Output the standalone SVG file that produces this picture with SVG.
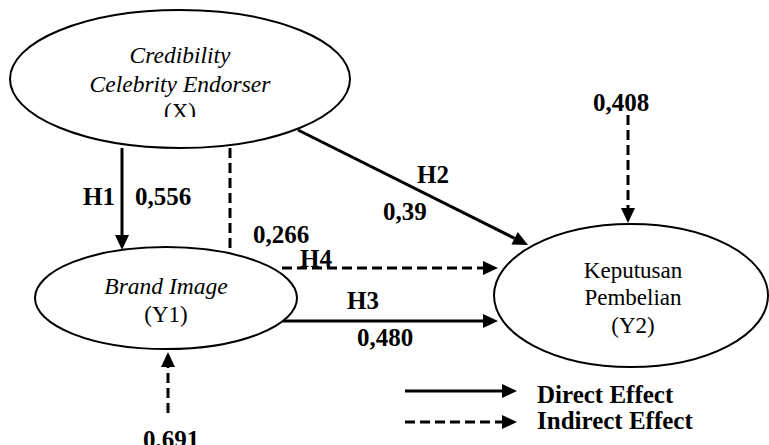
<svg xmlns="http://www.w3.org/2000/svg" width="769" height="445" viewBox="0 0 769 445">
<style>
.node{fill:#fff;stroke:#000;stroke-width:2}
text{font-family:"Liberation Serif","Times New Roman",serif;fill:#000}
.it{font-style:italic;font-size:23.5px;text-anchor:middle}
.rg{font-size:23px;text-anchor:middle}
.lb{font-weight:bold;font-size:25px}
.solid{stroke:#000;stroke-width:3;fill:none}
.dash{stroke:#000;stroke-width:3;fill:none;stroke-dasharray:10 5}
</style>
<defs>
<marker id="ah" markerUnits="userSpaceOnUse" viewBox="0 -7 15 14" refX="0" refY="0" markerWidth="15" markerHeight="14" orient="auto" overflow="visible">
<path d="M0,-7 L15,0 L0,7 z" fill="#000"/>
</marker>
<clipPath id="clipX"><rect x="0" y="0" width="400" height="117"/></clipPath>
</defs>
<rect width="769" height="445" fill="#fff"/>
<g id="connectors">
<line class="solid" x1="122" y1="148" x2="122" y2="235" marker-end="url(#ah)"/>
<line class="dash" x1="230" y1="148" x2="230" y2="252"/>
<line class="solid" x1="298" y1="130" x2="514.6" y2="238.3" marker-end="url(#ah)"/>
<line class="dash" x1="282" y1="268" x2="483" y2="268" marker-end="url(#ah)"/>
<line class="solid" x1="283" y1="321" x2="483" y2="321" marker-end="url(#ah)"/>
<line class="dash" x1="628" y1="115" x2="628" y2="208" marker-end="url(#ah)"/>
<line class="dash" x1="168" y1="413" x2="168" y2="367" marker-end="url(#ah)"/>
</g>
<g id="nodeX">
<ellipse class="node" cx="180" cy="79" rx="170" ry="69"/>
<g clip-path="url(#clipX)">
<text class="it" x="180" y="63">Credibility</text>
<text class="it" x="180" y="92">Celebrity Endorser</text>
<text class="rg" x="180" y="119">(X)</text>
</g>
</g>
<g id="nodeY1">
<ellipse class="node" cx="166" cy="298" rx="131" ry="51"/>
<text class="it" x="166" y="294">Brand Image</text>
<text class="rg" x="166" y="322">(Y1)</text>
</g>
<g id="nodeY2">
<ellipse class="node" cx="631" cy="295.5" rx="137" ry="71.5"/>
<text class="rg" x="633" y="278">Keputusan</text>
<text class="rg" x="633" y="305">Pembelian</text>
<text class="rg" x="633" y="333">(Y2)</text>
</g>
<g id="labels">
<text class="lb" x="83" y="205">H1</text>
<text class="lb" x="135" y="205">0,556</text>
<text class="lb" x="253" y="243">0,266</text>
<text class="lb" x="300" y="267">H4</text>
<text class="lb" x="417" y="183">H2</text>
<text class="lb" x="383" y="220">0,39</text>
<text class="lb" x="347" y="309">H3</text>
<text class="lb" x="357" y="346">0,480</text>
<text class="lb" x="593" y="111">0,408</text>
<text class="lb" x="143" y="448">0,691</text>
</g>
<g id="legend">
<line class="solid" x1="405" y1="391" x2="502" y2="391" marker-end="url(#ah)"/>
<line class="dash" x1="405" y1="422" x2="502" y2="422" marker-end="url(#ah)"/>
<text class="lb" x="537" y="403">Direct Effect</text>
<text class="lb" x="537" y="429">Indirect Effect</text>
</g>
</svg>
